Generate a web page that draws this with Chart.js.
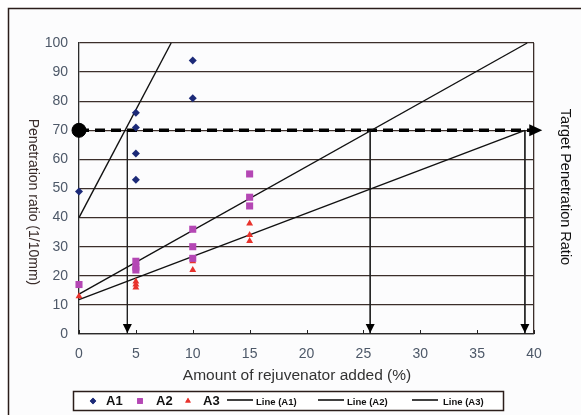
<!DOCTYPE html>
<html>
<head>
<meta charset="utf-8">
<script src="https://cdn.jsdelivr.net/npm/chart.js@4.4.1/dist/chart.umd.min.js"></script>
<style>
  html, body { margin: 0; padding: 0; background: #fff; }
  #wrap { width: 581px; height: 415px; }
</style>
</head>
<body>
<div id="wrap"><canvas id="myChart" width="581" height="415"></canvas></div>
<script>
// data
const a1X = [0, 5, 5, 5, 5, 10, 10];
const a1Y = [49, 76, 71, 62, 53, 94, 81];
const a2X = [0, 5, 5, 5, 10, 10, 10, 15, 15, 15];
const a2Y = [17, 25, 23, 22, 36, 30, 26, 55, 47, 44];
const a3X = [0, 5, 5, 5, 10, 10, 15, 15, 15];
const a3Y = [13, 18, 17, 16, 25, 22, 38, 34, 32];

// fitted lines (start / end)
const lineA1 = [[0, 40], [8.1, 100]];
const lineA2 = [[0, 13.7], [39.4, 100]];
const lineA3 = [[0, 11.8], [39.2, 70]];

// target ratio and the additions where each line reaches it
const targetRatio = 70;
const targetEndX = 40.2;
const reachX = [4.25, 25.6, 39.2];

const xTicks = [0, 5, 10, 15, 20, 25, 30, 35, 40];
const yTicks = [0, 10, 20, 30, 40, 50, 60, 70, 80, 90, 100];

const toPts = (xs, ys) => xs.map((x, i) => ({ x: x, y: ys[i] }));
const pairPts = pair => pair.map(p => ({ x: p[0], y: p[1] }));

const FONT = "'Liberation Sans', Arial, sans-serif";

function scatterSet(label, xs, ys, style, color, r) {
  return {
    label: label,
    type: "scatter",
    data: toPts(xs, ys),
    pointStyle: style,
    pointRadius: r,
    pointBackgroundColor: color,
    pointBorderColor: color,
    borderWidth: 0,
    clip: false,
  };
}

function lineSet(label, pts, extra) {
  return Object.assign({
    label: label,
    type: "line",
    data: pts,
    borderColor: "#111",
    borderWidth: 1.4,
    pointRadius: 0,
    fill: false,
    tension: 0,
    clip: false,
  }, extra || {});
}

const datasets = [
  scatterSet("A1", a1X, a1Y, "rectRot", "#1c2a78", 4),
  scatterSet("A2", a2X, a2Y, "rect", "#b447b4", 5),
  scatterSet("A3", a3X, a3Y, "triangle", "#e8322c", 4),
  lineSet("Line (A1)", pairPts(lineA1)),
  lineSet("Line (A2)", pairPts(lineA2)),
  lineSet("Line (A3)", pairPts(lineA3)),
  lineSet("target", [{ x: 0, y: targetRatio }, { x: targetEndX, y: targetRatio }],
    { borderWidth: 3.5, borderDash: [10, 6], borderColor: "#000" }),
];
reachX.forEach(x => {
  datasets.push(lineSet("reach", [{ x: x, y: targetRatio }, { x: x, y: 0 }],
    { borderWidth: 1, borderColor: "#222" }));
});
datasets.push({
  label: "dot", type: "scatter", data: [{ x: 0, y: targetRatio }],
  pointRadius: 7, pointBackgroundColor: "#000", pointBorderColor: "#000", clip: false,
});

const legendCount = 6;

const decorPlugin = {
  id: "decor",
  beforeDraw(chart) {
    const c = chart.ctx;
    c.save();
    c.fillStyle = "#fff";
    c.fillRect(0, 0, chart.width, chart.height);
    c.fillStyle = "#fcfcfd";
    c.fillRect(8, 8, chart.width, chart.height);
    c.strokeStyle = "#2b1d1a";
    c.lineWidth = 1.5;
    c.beginPath();
    c.moveTo(chart.width, 8.5);
    c.lineTo(8.5, 8.5);
    c.lineTo(8.5, chart.height);
    c.stroke();
    c.restore();
  },
  afterDatasetsDraw(chart) {
    const c = chart.ctx;
    const xs = chart.scales.x, ys = chart.scales.y;
    const area = chart.chartArea;
    c.save();
    c.fillStyle = "#000";
    // arrowhead on the target line
    const tx = xs.getPixelForValue(targetEndX), ty = ys.getPixelForValue(targetRatio);
    c.beginPath();
    c.moveTo(tx + 6, ty);
    c.lineTo(tx - 7, ty - 6);
    c.lineTo(tx - 7, ty + 6);
    c.closePath();
    c.fill();
    // arrowheads at the bottom of the drop lines
    reachX.forEach(x => {
      const px = xs.getPixelForValue(x), py = ys.getPixelForValue(0);
      c.beginPath();
      c.moveTo(px, py - 1);
      c.lineTo(px - 4.5, py - 10);
      c.lineTo(px + 4.5, py - 10);
      c.closePath();
      c.fill();
    });
    // small inward tick marks on the x axis
    c.strokeStyle = "#222";
    c.lineWidth = 1;
    xTicks.forEach(v => {
      const px = Math.round(xs.getPixelForValue(v)) + 0.5;
      c.beginPath();
      c.moveTo(px, area.bottom);
      c.lineTo(px, area.bottom - 4);
      c.stroke();
    });
    c.restore();
  },
  afterDraw(chart) {
    const c = chart.ctx;
    c.save();
    // y axis title, reads top to bottom
    c.fillStyle = "#3a2c2a";
    c.font = "14px " + FONT;
    c.textAlign = "center";
    c.textBaseline = "middle";
    c.translate(33, 202);
    c.rotate(Math.PI / 2);
    c.fillText("Penetration ratio (1/10mm)", 0, 0);
    c.restore();

    c.save();
    c.fillStyle = "#111";
    c.font = "14.5px " + FONT;
    c.textAlign = "center";
    c.textBaseline = "middle";
    c.translate(565, 187);
    c.rotate(Math.PI / 2);
    c.fillText("Target Penetration Ratio", 0, 0);
    c.restore();

    // x axis title
    c.save();
    c.fillStyle = "#333";
    c.font = "15.5px " + FONT;
    c.textAlign = "center";
    c.textBaseline = "middle";
    c.fillText("Amount of rejuvenator added (%)", 297, 376);
    c.restore();

    // legend box
    c.save();
    c.fillStyle = "#fff";
    c.fillRect(73.5, 391.5, 430, 19);
    c.strokeStyle = "#2b1d1a";
    c.lineWidth = 1.5;
    c.strokeRect(73.5, 391.5, 430, 19);
    const markX = [93, 140, 188];
    const textX = [106, 156, 203];
    const lineX = [227, 318, 412];
    const ltextX = [256, 347, 443];
    const cy = 401;
    c.textBaseline = "middle";
    c.textAlign = "left";
    chart.data.datasets.slice(0, legendCount).forEach((ds, i) => {
      if (i < 3) {
        c.fillStyle = ds.pointBackgroundColor;
        Chart.helpers.drawPoint(c, { pointStyle: ds.pointStyle, radius: ds.pointRadius * 0.8, borderWidth: 0 }, markX[i], cy);
        c.fill();
        c.fillStyle = "#111";
        c.font = "bold 13px " + FONT;
        c.fillText(ds.label, textX[i], cy);
      } else {
        const k = i - 3;
        c.strokeStyle = "#111";
        c.lineWidth = 1.6;
        c.beginPath();
        c.moveTo(lineX[k], cy - 1);
        c.lineTo(lineX[k] + 26, cy - 1);
        c.stroke();
        c.fillStyle = "#111";
        c.font = "bold 9.5px " + FONT;
        c.fillText(ds.label, ltextX[k], cy + 1);
      }
    });
    c.restore();
  },
};

const ctx = document.getElementById("myChart").getContext("2d");

new Chart(ctx, {
  type: "scatter",
  data: { datasets: datasets },
  plugins: [decorPlugin],
  options: {
    responsive: false,
    animation: false,
    events: [],
    layout: { padding: { left: 0, top: 43, right: 47, bottom: 0 } },
    plugins: {
      legend: { display: false },
      tooltip: { enabled: false },
    },
    scales: {
      x: {
        type: "linear",
        min: 0,
        max: 40,
        afterFit(scale) { scale.height = 81; },
        afterBuildTicks(scale) { scale.ticks = xTicks.map(v => ({ value: v })); },
        ticks: { color: "#4d5868", font: { family: FONT, size: 14 }, padding: 12 },
        grid: {
          drawTicks: false,
          color: c => (c.tick && c.tick.value === 40 ? "#3b2e2a" : "rgba(0,0,0,0)"),
          lineWidth: 1.3,
        },
        border: { color: "#2b2b2b", width: 1.3 },
      },
      y: {
        type: "linear",
        min: 0,
        max: 100,
        afterFit(scale) { scale.width = 79; },
        afterBuildTicks(scale) { scale.ticks = yTicks.map(v => ({ value: v })); },
        ticks: { color: "#4d5868", font: { family: FONT, size: 14 }, padding: 11 },
        grid: { drawTicks: false, color: "#3b2e2a", lineWidth: 1.3 },
        border: { color: "#2b2b2b", width: 1.3 },
      },
    },
  },
});
</script>
</body>
</html>
